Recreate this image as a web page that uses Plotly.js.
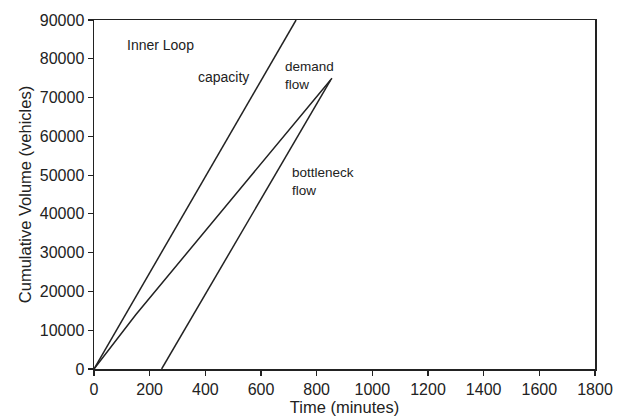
<!DOCTYPE html>
<html>
<head>
<meta charset="utf-8">
<script src="https://cdn.plot.ly/plotly-3.0.1.min.js"></script>
<style>html,body{margin:0;padding:0;background:#fff;}#chart{width:630px;height:418px;}</style>
</head>
<body>
<div id="chart"></div>
<script>
// Data
const capacityX = [0, 726];
const capacityY = [0, 90000];
const demandX = [0, 150, 550, 855];
const demandY = [0, 14000, 48600, 75000];
const bottleneckX = [243, 850];
const bottleneckY = [0, 74500];
const xTicks = [0, 200, 400, 600, 800, 1000, 1200, 1400, 1600, 1800];
const yTicks = [0, 10000, 20000, 30000, 40000, 50000, 60000, 70000, 80000, 90000];

const lineStyle = {color: '#222', width: 1.5};
const traces = [
  {x: capacityX, y: capacityY, mode: 'lines', line: lineStyle, name: 'capacity'},
  {x: demandX, y: demandY, mode: 'lines', line: lineStyle, name: 'demand flow'},
  {x: bottleneckX, y: bottleneckY, mode: 'lines', line: lineStyle, name: 'bottleneck flow'}
];

const font = {family: 'Liberation Sans, Arial, sans-serif', color: '#222'};
const ann = (text, x, y, size) => ({text: text, x: x, y: y, xref: 'x', yref: 'y', xanchor: 'left', yanchor: 'middle',
  align: 'left', showarrow: false, font: Object.assign({}, font, {size: size || 14})});

const layout = {
  width: 630, height: 418,
  margin: {l: 94, r: 35, t: 20, b: 49},
  paper_bgcolor: '#fff', plot_bgcolor: '#fff',
  showlegend: false,
  font: Object.assign({}, font, {size: 16}),
  xaxis: {
    range: [0, 1800], tickvals: xTicks, ticktext: xTicks.map(String),
    showgrid: false, zeroline: false, showline: true, linecolor: '#222', linewidth: 1.5, mirror: true,
    ticks: 'outside', ticklen: 5, tickcolor: '#222', tickwidth: 1.2,
    tickfont: Object.assign({}, font, {size: 16}),
    title: {text: 'Time (minutes)', font: Object.assign({}, font, {size: 16.5}), standoff: 2}
  },
  yaxis: {
    range: [0, 90000], tickvals: yTicks, ticktext: yTicks.map(String),
    showgrid: false, zeroline: false, showline: true, linecolor: '#222', linewidth: 1.5, mirror: true,
    ticks: 'outside', ticklen: 5, tickcolor: '#222', tickwidth: 1.2,
    tickfont: Object.assign({}, font, {size: 16}),
    title: {text: 'Cumulative Volume (vehicles)', font: Object.assign({}, font, {size: 16.5}), standoff: 4}
  },
  annotations: [
    ann('Inner Loop', 111, 83560),
    ann('capacity', 366, 75300),
    ann('demand<br>flow', 679, 75700, 13.5),
    ann('bottleneck<br>flow', 704, 48300, 13.5)
  ]
};

Plotly.newPlot('chart', traces, layout, {displayModeBar: false, staticPlot: true});
</script>
</body>
</html>
